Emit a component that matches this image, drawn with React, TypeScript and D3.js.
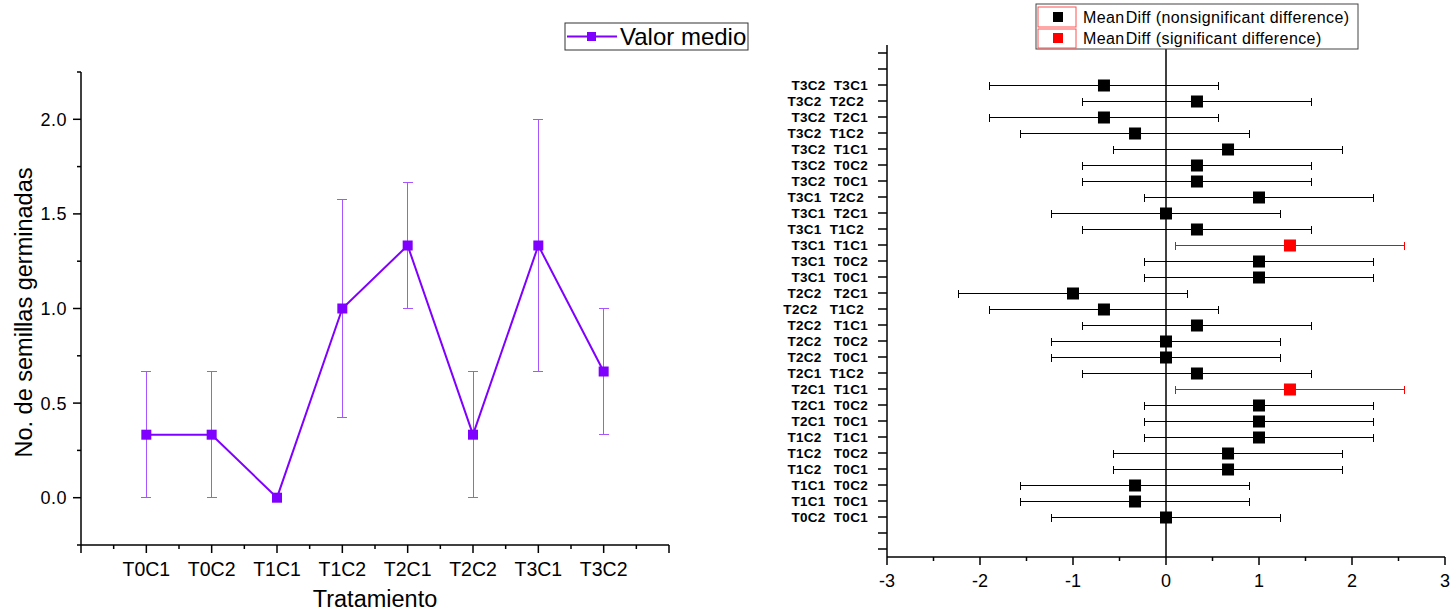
import React from 'react';
import * as d3 from 'd3';

// left panel: mean germinated seeds per treatment
const treatments = ['T0C1', 'T0C2', 'T1C1', 'T1C2', 'T2C1', 'T2C2', 'T3C1', 'T3C2'];
const meanValues = [0.333, 0.333, 0, 1.0, 1.333, 0.333, 1.333, 0.667];
const errLow = [0, 0, 0, 0.423, 1.0, 0, 0.667, 0.333];
const errHigh = [0.667, 0.667, 0, 1.577, 1.667, 0.667, 2.0, 1.0];
const yTicksLeft = [0, 0.5, 1.0, 1.5, 2.0];

// right panel: pairwise mean differences (top to bottom), labels keep the original spacing
const pairs = [
  'T3C2  T3C1', 'T3C2  T2C2 ', 'T3C2  T2C1', 'T3C2  T1C2 ', 'T3C2  T1C1', 'T3C2  T0C2', 'T3C2  T0C1',
  'T3C1  T2C2 ', 'T3C1  T2C1', 'T3C1  T1C2 ', 'T3C1  T1C1', 'T3C1  T0C2', 'T3C1  T0C1',
  'T2C2   T2C1', 'T2C2   T1C2 ', 'T2C2   T1C1', 'T2C2   T0C2', 'T2C2   T0C1',
  'T2C1  T1C2 ', 'T2C1  T1C1', 'T2C1  T0C2', 'T2C1  T0C1',
  'T1C2   T1C1', 'T1C2   T0C2', 'T1C2   T0C1',
  'T1C1  T0C2', 'T1C1  T0C1',
  'T0C2  T0C1',
];
const meanDiff = [
  -0.667, 0.333, -0.667, -0.333, 0.667, 0.333, 0.333,
  1.0, 0, 0.333, 1.333, 1.0, 1.0,
  -1.0, -0.667, 0.333, 0, 0,
  0.333, 1.333, 1.0, 1.0,
  1.0, 0.667, 0.667,
  -0.333, -0.333,
  0,
];
const lowerCL = [
  -1.894, -0.894, -1.894, -1.56, -0.56, -0.894, -0.894,
  -0.227, -1.227, -0.894, 0.106, -0.227, -0.227,
  -2.227, -1.894, -0.894, -1.227, -1.227,
  -0.894, 0.106, -0.227, -0.227,
  -0.227, -0.56, -0.56,
  -1.56, -1.56,
  -1.227,
];
const upperCL = [
  0.56, 1.56, 0.56, 0.894, 1.894, 1.56, 1.56,
  2.227, 1.227, 1.56, 2.56, 2.227, 2.227,
  0.227, 0.56, 1.56, 1.227, 1.227,
  1.56, 2.56, 2.227, 2.227,
  2.227, 1.894, 1.894,
  0.894, 0.894,
  1.227,
];
const significant = [
  0, 0, 0, 0, 0, 0, 0,
  0, 0, 0, 1, 0, 0,
  0, 0, 0, 0, 0,
  0, 1, 0, 0,
  0, 0, 0,
  0, 0,
  0,
];
const xTicksRight = [-3, -2, -1, 0, 1, 2, 3];

const FONT = 'Liberation Sans, Arial, sans-serif';
const PURPLE = '#8000ff';

export default function App() {
  // left chart scales
  const xL = d3.scaleLinear().domain([0, 9]).range([81, 669]);
  const yL = d3.scaleLinear().domain([-0.25, 2.25]).range([545, 72]);
  const line = d3.line<number>().x((_, i) => xL(i + 1)).y(d => yL(d));

  // right chart scales
  const xR = d3.scaleLinear().domain([-3, 3]).range([887, 1445]);
  const yR = d3.scaleLinear().domain([-0.5, 31.5]).range([557, 45]);
  const rowY = (i: number) => yR(29 - i) + 0.5;

  const leftMinorY = d3.range(-0.25, 2.26, 0.5);
  const xMajorL = d3.range(0, 10);
  const xMinorL = d3.range(0.5, 9, 1);
  const xMinorR = d3.range(-2.5, 3, 1);
  const rowTicks = d3.range(0, 32);

  return (
    <svg width={1452} height={615} style={{ position: 'absolute', left: 0, top: 0, background: '#fff' }}
      fontFamily={FONT}>
      <rect width={1452} height={615} fill="#fff" />

      {/* ---------- left chart ---------- */}
      <g stroke="#000" strokeWidth={1.5}>
        <line x1={xL(0)} x2={xL(0)} y1={yL(2.25)} y2={yL(-0.25)} />
        <line x1={xL(0)} x2={xL(9)} y1={yL(-0.25)} y2={yL(-0.25)} />
        {yTicksLeft.map(t => <line key={'ym' + t} x1={xL(0) - 8} x2={xL(0)} y1={yL(t)} y2={yL(t)} />)}
        {leftMinorY.map(t => <line key={'yn' + t} x1={xL(0) - 4} x2={xL(0)} y1={yL(t)} y2={yL(t)} />)}
        {xMajorL.map(t => <line key={'xm' + t} x1={xL(t)} x2={xL(t)} y1={yL(-0.25)} y2={yL(-0.25) + 8} />)}
        {xMinorL.map(t => <line key={'xn' + t} x1={xL(t)} x2={xL(t)} y1={yL(-0.25)} y2={yL(-0.25) + 4} />)}
      </g>
      {yTicksLeft.map(t => (
        <text key={'yl' + t} x={67} y={yL(t)} dy="0.36em" textAnchor="end" fontSize={18} letterSpacing={0.5}>
          {t.toFixed(1)}
        </text>
      ))}
      {treatments.map((t, i) => (
        <text key={'xl' + t} x={xL(i + 1)} y={yL(-0.25) + 31} textAnchor="middle" fontSize={19.5}>{t}</text>
      ))}
      <text x={375} y={607} textAnchor="middle" fontSize={23.5}>Tratamiento</text>
      <text transform={`translate(32,${yL(1) + 4}) rotate(-90)`} textAnchor="middle" fontSize={23.5}>
        No. de semillas germinadas
      </text>

      {/* error bars */}
      <g stroke="#a855ff" strokeWidth={1} shapeRendering="crispEdges">
        {treatments.map((t, i) => errHigh[i] > errLow[i] ? (
          <g key={'eb' + t}>
            <line x1={xL(i + 1)} x2={xL(i + 1)} y1={yL(errLow[i])} y2={yL(errHigh[i])} />
            <line x1={xL(i + 1) - 5} x2={xL(i + 1) + 5} y1={yL(errLow[i])} y2={yL(errLow[i])} />
            <line x1={xL(i + 1) - 5} x2={xL(i + 1) + 5} y1={yL(errHigh[i])} y2={yL(errHigh[i])} />
          </g>
        ) : null)}
      </g>
      <path d={line(meanValues) || ''} fill="none" stroke={PURPLE} strokeWidth={2} />
      {meanValues.map((v, i) => (
        <rect key={'m' + i} x={xL(i + 1) - 5} y={yL(v) - 5} width={10} height={10} fill={PURPLE} />
      ))}

      {/* left legend */}
      <rect x={565} y={23} width={183} height={27} fill="#fff" stroke="#333" strokeWidth={1} />
      <line x1={567} x2={617} y1={36.5} y2={36.5} stroke={PURPLE} strokeWidth={2} />
      <rect x={587} y={32} width={9} height={9} fill={PURPLE} />
      <text x={620} y={45} fontSize={24}>Valor medio</text>

      {/* ---------- right chart ---------- */}
      <g stroke="#000" strokeWidth={1.5}>
        <line x1={xR(-3)} x2={xR(-3)} y1={yR(31.5)} y2={yR(-0.5)} />
        <line x1={xR(-3)} x2={xR(3)} y1={yR(-0.5)} y2={yR(-0.5)} />
        <line x1={xR(0)} x2={xR(0)} y1={49} y2={yR(-0.5)} />
        {rowTicks.map(t => <line key={'rt' + t} x1={xR(-3) - 9} x2={xR(-3)} y1={yR(t)} y2={yR(t)} />)}
        {xTicksRight.map(t => <line key={'xr' + t} x1={xR(t)} x2={xR(t)} y1={yR(-0.5)} y2={yR(-0.5) + 8} />)}
        {xMinorR.map(t => <line key={'xrn' + t} x1={xR(t)} x2={xR(t)} y1={yR(-0.5)} y2={yR(-0.5) + 4} />)}
      </g>
      {xTicksRight.map(t => (
        <text key={'xrl' + t} x={xR(t)} y={yR(-0.5) + 30} textAnchor="middle" fontSize={18}>{t}</text>
      ))}
      {pairs.map((p, i) => (
        <text key={'pl' + i} x={868} y={rowY(i)} dy="0.36em" textAnchor="end" fontSize={13.5}
          fontWeight="bold" letterSpacing={0.3} xmlSpace="preserve" style={{ whiteSpace: 'pre' }}>{p}</text>
      ))}
      {pairs.map((p, i) => {
        const c = significant[i] ? '#ff0000' : '#000';
        const y = rowY(i);
        return (
          <g key={'ci' + i} stroke={c} strokeWidth={1}>
            <g shapeRendering="crispEdges">
              <line x1={xR(lowerCL[i])} x2={xR(upperCL[i])} y1={y} y2={y} />
              <line x1={xR(lowerCL[i])} x2={xR(lowerCL[i])} y1={y - 4} y2={y + 4} />
              <line x1={xR(upperCL[i])} x2={xR(upperCL[i])} y1={y - 4} y2={y + 4} />
            </g>
            <rect x={xR(meanDiff[i]) - 6} y={y - 6} width={12} height={12} fill={c} stroke="none" />
          </g>
        );
      })}

      {/* right legend */}
      <rect x={1036} y={4} width={322} height={45} fill="#fff" stroke="#444" strokeWidth={1} />
      <rect x={1038} y={7} width={38} height={20} fill="none" stroke="#ff5050" strokeWidth={1} />
      <rect x={1038} y={29} width={38} height={19} fill="none" stroke="#ff5050" strokeWidth={1} />
      <rect x={1053} y={12} width={10} height={10} fill="#000" />
      <rect x={1053} y={33} width={10} height={10} fill="#ff0000" />
      <text x={1083} y={23} fontSize={16} letterSpacing={0.4}>
        Mean<tspan dx={1}>Diff (nonsignificant difference)</tspan>
      </text>
      <text x={1083} y={44} fontSize={16} letterSpacing={0.4}>
        Mean<tspan dx={1}>Diff (significant difference)</tspan>
      </text>
    </svg>
  );
}
